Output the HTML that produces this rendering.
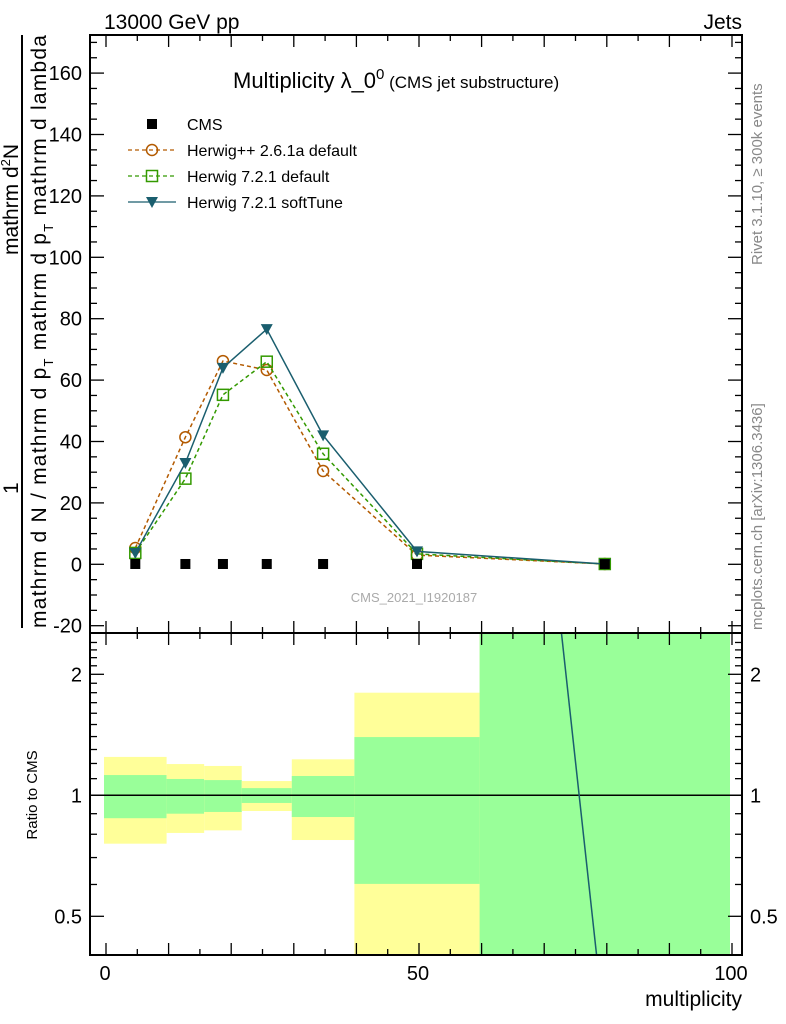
<!DOCTYPE html>
<html><head><meta charset="utf-8"><style>
html,body{margin:0;background:#fff;overflow:hidden;width:786px;height:1024px;}
svg{font-family:"Liberation Sans",sans-serif;display:block;}
</style></head><body>
<svg id="c" width="786" height="1024" xmlns="http://www.w3.org/2000/svg">
<defs><clipPath id="rclip"><rect x="90" y="633" width="652" height="322"/></clipPath>
<clipPath id="mclip"><rect x="90" y="35" width="652" height="598"/></clipPath></defs>
<g id="bands" clip-path="url(#rclip)"></g>
<g id="grid"></g>
<g id="series" clip-path="url(#mclip)"></g>
<g id="ratio" clip-path="url(#rclip)"></g>
<rect x="90" y="35" width="652" height="598" fill="none" stroke="#000" stroke-width="2"/>
<rect x="90" y="633" width="652" height="322" fill="none" stroke="#000" stroke-width="2"/>
<text x="104" y="29" font-size="21">13000 GeV pp</text>
<text x="742" y="29" font-size="21" text-anchor="end">Jets</text>
<text x="233" y="88" font-size="22">Multiplicity λ_0<tspan font-size="15" dy="-9">0</tspan><tspan font-size="17" dy="9"> (CMS jet substructure)</tspan></text>
<text x="414" y="602" font-size="13" fill="#aaa" text-anchor="middle">CMS_2021_I1920187</text>
<text transform="translate(762,265) rotate(-90)" font-size="15" fill="#888">Rivet 3.1.10, ≥ 300k events</text>
<text transform="translate(762,630) rotate(-90)" font-size="15" fill="#888">mcplots.cern.ch [arXiv:1306.3436]</text>
<g>
<text transform="translate(18,494) rotate(-90)" font-size="21">1</text>
<text transform="translate(18,255) rotate(-90)" font-size="21">mathrm d<tspan font-size="13" dy="-8">2</tspan><tspan dy="8">N</tspan></text>
<line x1="22" y1="628" x2="22" y2="35" stroke="#000" stroke-width="2"/>
<text transform="translate(46,628) rotate(-90)" font-size="21" textLength="593">mathrm d N / mathrm d p<tspan font-size="13" dy="7">T</tspan><tspan dy="-7"> mathrm d p</tspan><tspan font-size="13" dy="7">T</tspan><tspan dy="-7"> mathrm d lambda</tspan></text>
</g>
<text transform="translate(37,795) rotate(-90)" font-size="15" text-anchor="middle">Ratio to CMS</text>
<text x="742" y="1006" font-size="21" text-anchor="end">multiplicity</text>
<g id="legend" font-size="16"></g>
</svg>
<script>
const xs = [5, 13, 19, 26, 35, 50, 80];
const cmsVals = [0.1, 0.1, 0.1, 0.1, 0.1, 0.1, 0.05];
const hppVals = [5.3, 41.4, 66.2, 63.3, 30.4, 3.0, 0.1];
const h721Vals = [3.7, 27.9, 55.2, 66.0, 36.0, 3.4, 0.1];
const softVals = [3.7, 33.0, 64.0, 76.6, 42.0, 4.2, 0.1];
const binEdges = [0, 10, 16, 22, 30, 40, 60, 100];
const yelUp = [1.246, 1.196, 1.183, 1.085, 1.229, 1.80, 10];
const yelDn = [0.758, 0.806, 0.818, 0.914, 0.774, 0.30, 0.1];
const grnUp = [1.123, 1.098, 1.091, 1.042, 1.117, 1.396, 10];
const grnDn = [0.877, 0.90, 0.909, 0.957, 0.883, 0.602, 0.1];
const ratioX = [50, 80];
const softRatio = [5000, 0.26];
const yTicks = [-20, 0, 20, 40, 60, 80, 100, 120, 140, 160];
const xTicks = [0, 50, 100];
const rTicks = [0.5, 1, 2];

const NS = "http://www.w3.org/2000/svg";
const X = v => 104 + v * 6.26;
const Y = v => 564.3 - v * 3.07;
const R = v => 795.3 - 121 * Math.log2(v);
const RC = v => Math.max(633, Math.min(955, R(v)));
function mk(tag, attrs, parent) { const e = document.createElementNS(NS, tag); for (const k in attrs) e.setAttribute(k, attrs[k]); parent.appendChild(e); return e; }
const bands = document.getElementById('bands'), grid = document.getElementById('grid'), series = document.getElementById('series'), ratio = document.getElementById('ratio'), legend = document.getElementById('legend');

for (let i = 0; i < yelUp.length; i++) {
  const x1 = X(binEdges[i]), x2 = X(binEdges[i + 1]);
  const a = mk('rect', { x: x1, y: RC(yelUp[i]), width: x2 - x1, height: RC(yelDn[i]) - RC(yelUp[i]), fill: '#ffff99' }, bands);
  
  
  const b = mk('rect', { x: x1, y: RC(grnUp[i]), width: x2 - x1, height: RC(grnDn[i]) - RC(grnUp[i]), fill: '#99ff99' }, bands);
  
  
}
mk('line', { x1: 90, x2: 742, y1: R(1), y2: R(1), stroke: '#000', 'stroke-width': 1.5 }, bands);

for (let v = -20; v <= 170; v += 5) {
  const major = v % 20 === 0; const y = Y(v); if (y < 36) continue;
  mk('line', { x1: 90, x2: 90 + (major ? 14 : 7), y1: y, y2: y, stroke: '#000', 'stroke-width': 1.3 }, grid);
  mk('line', { x1: 742, x2: 742 - (major ? 14 : 7), y1: y, y2: y, stroke: '#000', 'stroke-width': 1.3 }, grid);
}
yTicks.forEach(v => { const t = mk('text', { x: 82, y: Y(v) + 7, 'font-size': 20, 'text-anchor': 'end' }, grid); t.textContent = v;
  
   });
for (let v = 0; v <= 100; v += 5) {
  const major = v % 10 === 0; const x = X(v) + 2;
  const L = major ? 12 : 6;
  mk('line', { x1: x, x2: x, y1: 35, y2: 35 + L, stroke: '#000', 'stroke-width': 1.3 }, grid);
  mk('line', { x1: x, x2: x, y1: 633, y2: 633 - L, stroke: '#000', 'stroke-width': 1.3 }, grid);
  mk('line', { x1: x, x2: x, y1: 633, y2: 633 + L, stroke: '#000', 'stroke-width': 1.3 }, grid);
  mk('line', { x1: x, x2: x, y1: 955, y2: 955 - L, stroke: '#000', 'stroke-width': 1.3 }, grid);
}
xTicks.forEach(v => { const t = mk('text', { x: X(v) + 1, y: 980, 'font-size': 20, 'text-anchor': 'middle' }, grid); t.textContent = v;
  
   });
for (let d = 0.4; d <= 2.5; d += 0.1) {
  const v = Math.round(d * 10) / 10; const y = R(v); if (y < 634 || y > 954) continue;
  const major = rTicks.includes(v);
  mk('line', { x1: 90, x2: 90 + (major ? 14 : 7), y1: y, y2: y, stroke: '#000', 'stroke-width': 1.3 }, grid);
  mk('line', { x1: 742, x2: 742 - (major ? 14 : 7), y1: y, y2: y, stroke: '#000', 'stroke-width': 1.3 }, grid);
}
rTicks.forEach(v => {
  const t = mk('text', { x: 82, y: R(v) + 7, 'font-size': 20, 'text-anchor': 'end' }, grid); t.textContent = v;
  
  
  const t2 = mk('text', { x: 750, y: R(v) + 7, 'font-size': 20 }, grid); t2.textContent = v;
  
  
});

function marker(kind, x, y, col, g) {
  if (kind === 'sq') return mk('rect', { x: x - 5, y: y - 5, width: 10, height: 10, fill: '#000' }, g);
  if (kind === 'circ') return mk('circle', { cx: x, cy: y, r: 5.5, fill: 'none', stroke: col, 'stroke-width': 1.5 }, g);
  if (kind === 'osq') return mk('rect', { x: x - 5.5, y: y - 5.5, width: 11, height: 11, fill: 'none', stroke: col, 'stroke-width': 1.5 }, g);
  return mk('path', { d: `M${x - 6},${y - 5}L${x + 6},${y - 5}L${x},${y + 6}Z`, fill: col }, g);
}
const defs = [
  { vals: hppVals, col: '#b35a00', kind: 'circ', dash: '4,3', name: 'herwigpp-2.6.1a-series', label: 'Herwig++ 2.6.1a default' },
  { vals: h721Vals, col: '#339900', kind: 'osq', dash: '4,3', name: 'herwig-7.2.1-default-series', label: 'Herwig 7.2.1 default' },
  { vals: softVals, col: '#1a5e6e', kind: 'tri', dash: '', name: 'herwig-7.2.1-softtune-series', label: 'Herwig 7.2.1 softTune' },
];
defs.forEach(s => {
  const g = mk('g', {}, series);
  
  
  const pts = xs.map((x, i) => X(x) + ',' + Y(s.vals[i])).join(' ');
  const pl = mk('polyline', { points: pts, fill: 'none', stroke: s.col, 'stroke-width': 1.5 }, g);
  if (s.dash) pl.setAttribute('stroke-dasharray', s.dash);
  xs.forEach((x, i) => marker(s.kind, X(x), Y(s.vals[i]), s.col, g));
});
const cg = mk('g', {}, series);


xs.forEach((x, i) => marker('sq', X(x), Y(cmsVals[i]), '#000', cg));

// ratio line clipped analytically to the panel
(function () {
  const x1 = X(ratioX[0]), y1 = R(softRatio[0]), x2 = X(ratioX[1]), y2 = R(softRatio[1]);
  const t1 = Math.max(0, (633 - y1) / (y2 - y1)), t2 = Math.min(1, (955 - y1) / (y2 - y1));
  const rl = mk('line', { x1: x1 + (x2 - x1) * t1, y1: y1 + (y2 - y1) * t1, x2: x1 + (x2 - x1) * t2, y2: y1 + (y2 - y1) * t2, stroke: '#1a5e6e', 'stroke-width': 1.5 }, ratio);
  
  
})();

const lrows = [{ kind: 'sq', col: '#000', dash: null, label: 'CMS' }].concat(defs);
lrows.forEach((r, i) => {
  const y = 124 + i * 26;
  const g = mk('g', {}, legend);
  
  
  if (r.dash !== null) {
    const l = mk('line', { x1: 128, x2: 176, y1: y, y2: y, stroke: r.col, 'stroke-width': 1.3 }, g);
    if (r.dash) l.setAttribute('stroke-dasharray', r.dash);
  }
  marker(r.kind, 152, y, r.col, g);
  const t = mk('text', { x: 187, y: y + 6, 'font-size': 16 }, g); t.textContent = r.label;
});
</script>
</body></html>
